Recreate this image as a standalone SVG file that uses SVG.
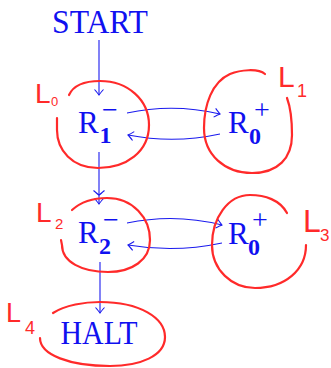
<svg xmlns="http://www.w3.org/2000/svg" width="331" height="368" viewBox="0 0 331 368">
<defs>
<style>
.tt{font-family:"Liberation Serif",serif;fill:#1010f0;}
.rm{font-family:"Liberation Serif",serif;fill:#1010f0;}
.bd{font-family:"Liberation Serif",serif;font-weight:bold;fill:#1010f0;}
.lab{font-family:"Liberation Sans",sans-serif;fill:#ff2a2a;}
.ring{fill:none;stroke:#ff2a2a;stroke-width:2.2;stroke-linecap:round;}
.edge{fill:none;stroke:#1a1aee;stroke-width:1.1;}
</style>
<marker id="ah" viewBox="-7 -6 8 12" refX="0" refY="0" markerWidth="8" markerHeight="12" markerUnits="userSpaceOnUse" orient="auto">
<path d="M-5.5,-4.5 Q-1.5,-1 0,0 Q-1.5,1 -5.5,4.5" fill="none" stroke="#1a1aee" stroke-width="1.1"/>
</marker>
</defs>
<rect width="331" height="368" fill="#fff"/>
<g id="connectors">
<path class="edge" d="M99,40 L99,95" marker-end="url(#ah)"/>
<path class="edge" d="M99,152 L99,204" marker-end="url(#ah)"/>
<path class="edge" d="M93.5,190.5 Q97.5,194 99,195 Q100.5,194 104.5,190.5"/>
<path class="edge" d="M100,262 L100,313" marker-end="url(#ah)"/>
<path class="edge" d="M127,113 Q173,103 220,114" marker-end="url(#ah)"/>
<path class="edge" d="M220,134 Q174,144 128,135" marker-end="url(#ah)"/>
<path class="edge" d="M127,223 Q175,213 222,225" marker-end="url(#ah)"/>
<path class="edge" d="M222,243 Q175,253 128,245" marker-end="url(#ah)"/>
</g>
<g id="start">
<text class="tt" x="100" y="33" font-size="33" text-anchor="middle" textLength="96" lengthAdjust="spacingAndGlyphs">START</text>
</g>
<g id="L0">
<path class="ring" d="M69,95 C74,84 86,81 100,81 C128,81 149,100 149,125 C149,152 126,168 98,168 C72,168 57,150 57,130 L57,118"/>
<text class="lab" x="35" y="103" font-size="28">L</text>
<text class="lab" x="51" y="106" font-size="13">0</text>
<text class="rm" x="78" y="133" font-size="31">R</text>
<text class="bd" x="99.5" y="143" font-size="24">1</text>
<text class="rm" x="102" y="119" font-size="28">−</text>
</g>
<g id="L1">
<path class="ring" d="M265,74 C258,68 240,70 230,74 C212,82 204,105 204,128 C204,155 225,173 252,173 C278,173 292,158 292,135 C292,118 290,106 287,98"/>
<text class="lab" x="278" y="87" font-size="30">L</text>
<text class="lab" x="297" y="97" font-size="18">1</text>
<text class="rm" x="228" y="133" font-size="31">R</text>
<text class="bd" x="249" y="144" font-size="24">0</text>
<text class="rm" x="254" y="119" font-size="28">+</text>
</g>
<g id="L2">
<path class="ring" d="M72,210 C82,201 95,198 107,198 C133,198 150,218 150,240 C150,260 132,272 108,272 C82,272 62,262 62,245 L61,240"/>
<text class="lab" x="36" y="222" font-size="28">L</text>
<text class="lab" x="55" y="229" font-size="15">2</text>
<text class="rm" x="78" y="243" font-size="31">R</text>
<text class="bd" x="99" y="254" font-size="24">2</text>
<text class="rm" x="103" y="229" font-size="28">−</text>
</g>
<g id="L3">
<path class="ring" d="M287,213 C280,200 265,195 250,195 C228,195 212,218 212,245 C212,270 232,288 255,288 C285,288 306,270 306,245"/>
<text class="lab" x="303" y="232" font-size="32">L</text>
<text class="lab" x="320" y="241" font-size="17">3</text>
<text class="rm" x="228" y="244" font-size="31">R</text>
<text class="bd" x="248" y="255" font-size="24">0</text>
<text class="rm" x="252" y="229" font-size="28">+</text>
</g>
<g id="L4">
<path class="ring" d="M53,313 C65,305 85,302 100,302 C140,302 165,318 165,337 C165,356 140,366 110,366 C70,366 40,355 40,338"/>
<text class="lab" x="6" y="322" font-size="27">L</text>
<text class="lab" x="25" y="334" font-size="18">4</text>
<text class="tt" x="99" y="344" font-size="33" text-anchor="middle" textLength="77" lengthAdjust="spacingAndGlyphs">HALT</text>
</g>
</svg>
